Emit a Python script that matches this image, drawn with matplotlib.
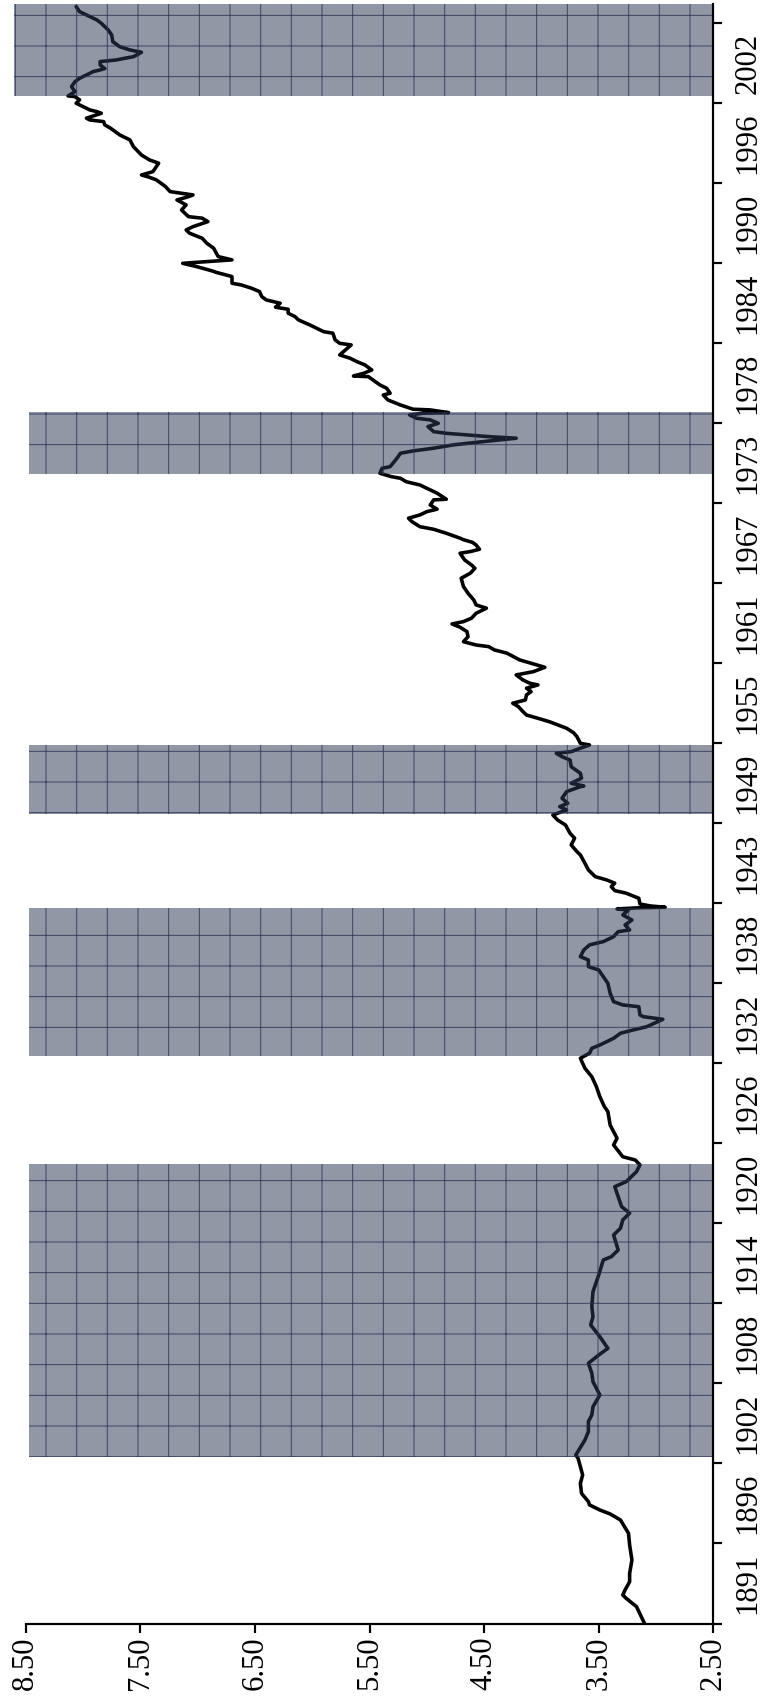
import matplotlib
matplotlib.use("Agg")
import matplotlib.pyplot as plt
import numpy as np

# series, read along the time axis
years = [
    1891.20, 1892.43, 1893.04, 1893.28, 1893.65, 1894.26, 1894.87, 1895.84, 1896.94, 1897.80,
    1898.77, 1899.21, 1899.50, 1899.87, 1900.11, 1900.72, 1901.45, 1902.06, 1902.67, 1903.28,
    1903.52, 1904.62, 1905.23, 1905.96, 1906.45, 1907.05, 1907.91, 1908.40, 1908.88, 1909.50,
    1910.23, 1910.83, 1911.32, 1912.17, 1913.03, 1913.63, 1914.37, 1915.46, 1916.68, 1917.78,
    1918.02, 1918.51, 1919.61, 1920.10, 1920.71, 1921.20, 1921.68, 1922.41, 1923.14, 1923.51,
    1924.24, 1924.73, 1925.09, 1925.33, 1926.19, 1926.68, 1927.65, 1928.63, 1928.99, 1929.72,
    1930.45, 1931.18, 1931.80, 1932.53, 1932.90, 1933.26, 1933.50, 1933.99, 1934.36, 1934.60,
    1934.84, 1935.38, 1935.57, 1935.70, 1936.30, 1936.43, 1936.67, 1937.28, 1938.01, 1938.50,
    1938.99, 1939.23, 1939.72, 1939.96, 1940.45, 1940.82, 1941.06, 1941.42, 1941.79, 1941.91,
    1942.28, 1942.64, 1943.01, 1943.37, 1943.45, 1943.54, 1943.57, 1943.67, 1943.81, 1944.23,
    1944.60, 1944.79, 1945.08, 1945.33, 1945.57, 1945.81, 1946.30, 1946.79, 1947.40, 1947.64,
    1948.13, 1948.62, 1948.98, 1949.59, 1949.96, 1950.32, 1950.69, 1950.93, 1951.18, 1951.54,
    1952.03, 1952.39, 1952.44, 1952.64, 1953.01, 1953.37, 1953.85, 1954.34, 1954.58, 1954.83,
    1954.95, 1955.20, 1955.44, 1955.56, 1956.05, 1956.34, 1956.66, 1957.14, 1957.39, 1957.63,
    1957.87, 1958.24, 1958.49, 1958.73, 1959.10, 1959.34, 1959.59, 1959.83, 1959.95, 1960.19,
    1960.56, 1960.80, 1961.12, 1961.29, 1961.66, 1962.15, 1962.39, 1962.63, 1962.75, 1962.99,
    1963.36, 1963.73, 1964.05, 1964.29, 1964.46, 1964.71, 1965.07, 1965.44, 1965.68, 1966.04,
    1966.53, 1967.02, 1967.63, 1968.00, 1968.36, 1968.60, 1968.97, 1969.46, 1969.58, 1969.75,
    1970.06, 1970.25, 1970.45, 1970.56, 1970.92, 1971.21, 1971.40, 1971.77, 1972.02, 1972.26,
    1972.50, 1972.68, 1972.99, 1973.36, 1973.41, 1973.85, 1974.09, 1974.45, 1974.69, 1974.94,
    1975.06, 1975.31, 1975.67, 1975.79, 1976.41, 1976.77, 1976.94, 1977.14, 1977.38, 1977.62,
    1977.87, 1977.98, 1978.11, 1978.23, 1978.35, 1978.72, 1978.96, 1979.21, 1979.33, 1979.57,
    1979.70, 1979.74, 1979.94, 1979.99, 1980.30, 1980.67, 1981.03, 1981.16, 1981.52, 1981.77,
    1982.01, 1982.37, 1982.42, 1982.62, 1982.86, 1983.23, 1983.47, 1983.72, 1983.96, 1984.32,
    1984.69, 1984.81, 1985.06, 1985.55, 1985.66, 1986.15, 1986.52, 1986.76, 1987.01, 1987.30,
    1987.45, 1987.74, 1987.98, 1988.22, 1988.59, 1988.84, 1989.08, 1989.20, 1989.69, 1989.98,
    1990.12, 1990.42, 1990.66, 1990.91, 1991.15, 1991.76, 1992.13, 1992.49, 1992.86, 1993.10,
    1993.34, 1993.71, 1993.96, 1994.07, 1994.56, 1994.93, 1995.29, 1995.53, 1995.66, 1995.78,
    1995.90, 1996.27, 1996.76, 1996.95, 1997.12, 1997.36, 1997.98, 1998.22, 1998.58, 1999.19,
    1999.68, 2000.05, 2000.54, 2000.78, 2001.02, 2001.14, 2001.27, 2001.63, 2001.75, 2001.87,
    2002.12, 2002.36, 2002.61, 2002.85, 2002.90, 2003.21, 2003.58, 2003.94, 2004.19, 2004.43,
    2004.68, 2004.80, 2004.90, 2005.16, 2005.41, 2005.53, 2005.77, 2005.90, 2006.09, 2006.26,
    2006.50, 2006.87, 2007.36, 2007.72, 2008.21, 2008.46, 2008.70, 2009.06, 2009.43,
]
values = [
    3.10, 3.17, 3.26, 3.29, 3.27, 3.23, 3.23, 3.21, 3.23, 3.24,
    3.31, 3.40, 3.49, 3.58, 3.59, 3.65, 3.66, 3.64, 3.66, 3.68,
    3.70, 3.62, 3.59, 3.59, 3.56, 3.55, 3.49, 3.52, 3.55, 3.56,
    3.59, 3.50, 3.42, 3.49, 3.57, 3.55, 3.56, 3.55, 3.50, 3.46,
    3.39, 3.33, 3.37, 3.31, 3.29, 3.23, 3.30, 3.33, 3.36, 3.26,
    3.17, 3.14, 3.18, 3.29, 3.37, 3.34, 3.40, 3.42, 3.45, 3.49,
    3.52, 3.56, 3.62, 3.66, 3.58, 3.56, 3.49, 3.37, 3.31, 3.20,
    3.08, 2.94, 3.11, 3.14, 3.15, 3.29, 3.37, 3.40, 3.42, 3.46,
    3.50, 3.59, 3.59, 3.66, 3.63, 3.58, 3.46, 3.37, 3.33, 3.23,
    3.27, 3.21, 3.29, 3.24, 3.34, 3.14, 2.92, 3.05, 3.14, 3.15,
    3.26, 3.36, 3.39, 3.36, 3.43, 3.53, 3.59, 3.62, 3.66, 3.69,
    3.74, 3.71, 3.75, 3.79, 3.86, 3.90, 3.78, 3.84, 3.77, 3.82,
    3.78, 3.66, 3.63, 3.74, 3.65, 3.66, 3.74, 3.75, 3.82, 3.87,
    3.74, 3.66, 3.58, 3.66, 3.69, 3.72, 3.78, 3.93, 4.03, 4.13,
    4.16, 4.20, 4.25, 4.14, 4.13, 4.09, 4.13, 4.03, 4.10, 4.16,
    4.22, 4.07, 3.97, 4.04, 4.19, 4.30, 4.41, 4.46, 4.57, 4.68,
    4.64, 4.65, 4.71, 4.78, 4.68, 4.61, 4.57, 4.48, 4.57, 4.59,
    4.64, 4.68, 4.70, 4.62, 4.58, 4.61, 4.67, 4.71, 4.62, 4.54,
    4.57, 4.60, 4.68, 4.71, 4.83, 4.94, 5.06, 5.13, 5.16, 5.06,
    5.00, 4.91, 4.97, 4.94, 4.83, 4.91, 4.97, 5.06, 5.18, 5.23,
    5.31, 5.41, 5.39, 5.32, 5.26, 5.23, 5.12, 4.94, 4.77, 4.51,
    4.22, 4.45, 4.65, 4.83, 4.94, 4.99, 4.90, 4.97, 5.09, 5.15,
    5.03, 4.81, 4.97, 5.12, 5.23, 5.34, 5.38, 5.32, 5.35, 5.41,
    5.45, 5.51, 5.64, 5.55, 5.48, 5.54, 5.61, 5.67, 5.76, 5.71,
    5.66, 5.76, 5.80, 5.82, 5.90, 6.02, 6.12, 6.15, 6.21, 6.21,
    6.32, 6.28, 6.40, 6.44, 6.46, 6.53, 6.62, 6.70, 6.70, 6.83,
    6.88, 7.01, 7.13, 6.70, 6.82, 6.86, 6.92, 6.96, 7.07, 7.10,
    7.04, 6.91, 6.96, 7.08, 7.14, 7.10, 7.18, 7.08, 7.04, 7.14,
    7.24, 7.28, 7.36, 7.42, 7.49, 7.39, 7.34, 7.42, 7.49, 7.56,
    7.59, 7.68, 7.76, 7.81, 7.82, 7.94, 7.97, 7.84, 7.88, 7.94,
    8.00, 8.06, 8.03, 8.07, 8.13, 8.07, 8.10, 8.07, 8.03, 7.97,
    7.91, 7.85, 7.81, 7.85, 7.85, 7.71, 7.56, 7.53, 7.49, 7.59,
    7.68, 7.74, 7.75, 7.78, 7.84, 7.88, 7.94, 8.03, 8.06,
]

# shaded periods (start, end) and how far each band reaches on the value axis
band_start = [1903.40, 1932.70, 1950.39, 1975.26, 2002.92]
band_end = [1924.80, 1943.50, 1955.44, 1979.81, 2009.62]
band_top = [8.47, 8.47, 8.47, 8.47, 8.60]

# time axis: one label per group, labels sit between the ticks
year_labels = ["1891", "1896", "1902", "1908", "1914", "1920", "1926", "1932", "1938", "1943",
               "1949", "1955", "1961", "1967", "1973", "1978", "1984", "1990", "1996", "2002"]
axis_start = 1891.20
group_len = 5.85
axis_end = 2009.62

value_ticks = [8.5, 7.5, 6.5, 5.5, 4.5, 3.5, 2.5]

DPI = 184
SERIF = "Liberation Serif"
plt.rcParams["font.family"] = "serif"
plt.rcParams["font.serif"] = [SERIF, "DejaVu Serif"]
plt.rcParams["hatch.linewidth"] = 0.38

fig = plt.figure(figsize=(760 / DPI, 1697 / DPI), dpi=DPI)
ax = fig.add_axes([25.7 / 760, 73.5 / 1697, (713.3 - 25.7) / 760, (1693 - 73.5) / 1697])

ax.plot(values, years, color="black", lw=1.4, zorder=2,
        solid_joinstyle="round", solid_capstyle="round")

# translucent bands drawn over the line, so the line shows through dark
band_rgb = (0.18, 0.22, 0.33)
for s, e, top in zip(band_start, band_end, band_top):
    ax.barh(s, top - 2.5, height=e - s, left=2.5, align="edge",
            facecolor=band_rgb + (0.52,), edgecolor=(0.14, 0.19, 0.34, 0.8), hatch="+",
            linewidth=0, zorder=3, clip_on=False)

ax.set_xlim(8.5, 2.5)
ax.set_ylim(axis_start, axis_end)

for side in ["top", "left"]:
    ax.spines[side].set_visible(False)
for side in ["bottom", "right"]:
    ax.spines[side].set_linewidth(0.85)
    ax.spines[side].set_zorder(4)

ax.set_xticks(value_ticks)
ax.set_xticklabels([f"{v:.2f}" for v in value_ticks], rotation=90,
                   fontsize=12, family=SERIF)
ax.tick_params(axis="x", direction="out", length=3.6, width=0.85, pad=1.5)

tick_pos = [axis_start + k * group_len for k in range(len(year_labels) + 1)]
label_pos = [axis_start + (k + 0.5) * group_len for k in range(len(year_labels))]
ax.yaxis.tick_right()
ax.set_yticks(tick_pos)
ax.set_yticklabels([])
ax.set_yticks(label_pos, minor=True)
ax.set_yticklabels(year_labels, minor=True, rotation=90, va="center",
                   fontsize=12, family=SERIF)
ax.tick_params(axis="y", which="major", direction="out", length=3.6, width=0.85)
ax.tick_params(axis="y", which="minor", length=0, pad=8)

fig.savefig("out.png", dpi=DPI)
